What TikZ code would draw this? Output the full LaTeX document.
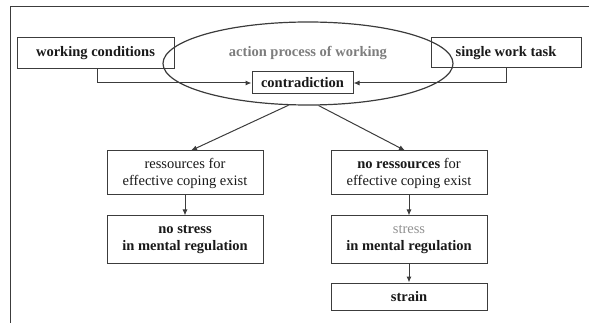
\documentclass[tikz,border=0pt]{standalone}
\usepackage{fontspec}
\setmainfont{Liberation Serif}
\usetikzlibrary{arrows.meta,shapes.geometric}
\definecolor{ln}{RGB}{60,60,60}
\definecolor{tx}{RGB}{25,25,25}
\definecolor{gtx}{RGB}{125,125,125}
\definecolor{gtx2}{RGB}{145,145,145}
\tikzset{
  box/.style={draw=ln, line width=1pt, rectangle, inner sep=0pt, align=center, text=tx,
    font=\fontsize{14.5}{17}\selectfont},
  arr/.style={draw=ln, line width=1pt, -{Latex[length=6pt,width=5pt]}},
}
\begin{document}
\begin{tikzpicture}[x=1pt,y=-1pt]
\useasboundingbox (0,0) rectangle (589,323);
\draw[ln, line width=1pt] (589,7) -| (10,323);
% ellipse
\node[ellipse, draw=ln, line width=1.2pt, minimum width=290pt, minimum height=83pt, inner sep=0pt] (ell) at (308,63.5) {};
\node[text=gtx, font=\fontsize{14.5}{17}\selectfont\bfseries] (apw) at (308,53) {action process of working};
% top boxes
\node[box, minimum width=157pt, minimum height=31pt, font=\fontsize{14.5}{17}\selectfont\bfseries] (wc) at (95.5,53.5) {working conditions};
\node[box, minimum width=150pt, minimum height=30pt, font=\fontsize{14.5}{17}\selectfont\bfseries] (swt) at (506,53) {single work task};
\node[box, minimum width=101pt, minimum height=22pt, font=\fontsize{14.5}{17}\selectfont\bfseries] (con) at (302.5,83) {contradiction};
% lower boxes
\node[box, minimum width=156pt, minimum height=44pt] (l1) at (185,173) {ressources for\\effective coping exist};
\node[box, minimum width=156pt, minimum height=47pt, font=\fontsize{14.5}{17}\selectfont\bfseries] (l2) at (185,239.5) {no stress\\in mental regulation};
\node[box, minimum width=156pt, minimum height=44pt] (r1) at (409,173) {\textbf{no ressources} for\\effective coping exist};
\node[box, minimum width=156pt, minimum height=47pt, font=\fontsize{14.5}{17}\selectfont\bfseries] (r2) at (409,239.5) {\textcolor{gtx2}{\mdseries stress}\\in mental regulation};
\node[box, minimum width=156pt, minimum height=27pt, font=\fontsize{14.5}{17}\selectfont\bfseries] (r3) at (409,296.5) {strain};
% connectors
\draw[arr] ([xshift=1.5pt]wc.south) |- (con.west);
\draw[arr] (swt.south) |- (con.east);
\draw[arr] (ell.245) -- ([xshift=6pt]l1.north);
\draw[arr] (ell.284) -- ([xshift=-4pt]r1.north);
\draw[arr] (l1) -- (l2);
\draw[arr] (r1) -- (r2);
\draw[arr] (r2) -- (r3);
\end{tikzpicture}
\end{document}
